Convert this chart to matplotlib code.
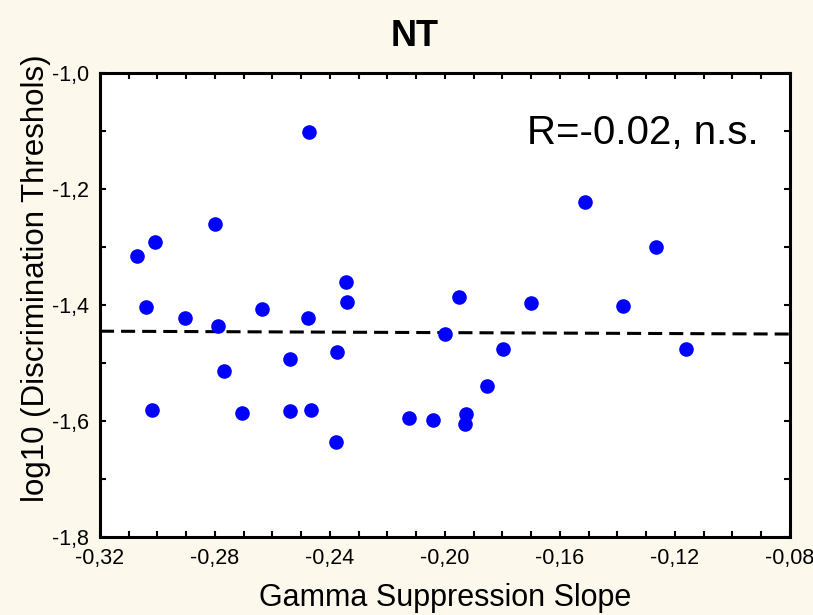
import numpy as np
import matplotlib
matplotlib.use("Agg")
import matplotlib.pyplot as plt
from matplotlib.ticker import MultipleLocator, FuncFormatter

# Per-subject values
gamma_slope = [
    -0.3071, -0.3040, -0.3009, -0.3019, -0.2904, -0.2800, -0.2790, -0.2769,
    -0.2706, -0.2637, -0.2539, -0.2539, -0.2473, -0.2476, -0.2466, -0.2376,
    -0.2379, -0.2344, -0.2341, -0.2125, -0.2042, -0.2000, -0.1951, -0.1927,
    -0.1930, -0.1854, -0.1798, -0.1701, -0.1513, -0.1381, -0.1266, -0.1162,
]
log_threshold = [
    -1.316, -1.403, -1.291, -1.581, -1.422, -1.260, -1.436, -1.514,
    -1.586, -1.407, -1.493, -1.583, -1.102, -1.422, -1.581, -1.481,
    -1.636, -1.360, -1.395, -1.595, -1.598, -1.450, -1.386, -1.588,
    -1.605, -1.540, -1.476, -1.397, -1.222, -1.402, -1.300, -1.476,
]
x_limits = (-0.32, -0.08)
y_limits = (-1.8, -1.0)
title = "NT"
annotation = "R=-0.02, n.s."
x_label = "Gamma Suppression Slope"
y_label = "log10 (Discrimination Threshols)"

plt.rcParams["font.family"] = ["Liberation Sans", "DejaVu Sans"]

bg = "#FDF8EC"
fig = plt.figure(figsize=(8.13, 6.15), dpi=100, facecolor=bg)
ax = fig.add_axes([0.123, 0.1268, 0.8487, 0.7545])
ax.set_facecolor("white")

x = np.array(gamma_slope)
y = np.array(log_threshold)

# Linear fit across the full x range
slope, intercept = np.polyfit(x, y, 1)
xf = np.array(x_limits)
ax.plot(xf, slope * xf + intercept, color="black", lw=2.2,
        dashes=(4.6, 2.3), zorder=2)

ax.plot(x, y, linestyle="none", marker="o", markersize=10.5,
        color="#0000FF", markeredgewidth=0, zorder=3)

ax.set_xlim(*x_limits)
ax.set_ylim(*y_limits)

ax.xaxis.set_major_locator(MultipleLocator(0.04))
ax.xaxis.set_minor_locator(MultipleLocator(0.01))
ax.yaxis.set_major_locator(MultipleLocator(0.2))
ax.yaxis.set_minor_locator(MultipleLocator(0.1))
ax.xaxis.set_major_formatter(FuncFormatter(lambda v, p: f"{v:.2f}".replace(".", ",")))
ax.yaxis.set_major_formatter(FuncFormatter(lambda v, p: f"{v:.1f}".replace(".", ",")))

ax.tick_params(which="both", direction="in", top=True, right=True,
               length=4, width=1.5, colors="black")
ax.tick_params(axis="x", which="major", labelsize=15.5, pad=8)
ax.tick_params(axis="y", which="major", labelsize=15.5, pad=8)

for s in ax.spines.values():
    s.set_linewidth(2.2)
    s.set_color("black")

ax.set_xlabel(x_label, fontsize=22)
ax.xaxis.set_label_coords(0.5, -0.099)
ax.set_ylabel(y_label, fontsize=22.5, va="center")
ax.yaxis.set_label_coords(-0.093, 0.558)

fig.text(0.51, 0.941, title, fontsize=26, fontweight="bold",
         ha="center", va="center")

ax.text(0.619, 0.871, annotation, transform=ax.transAxes, fontsize=29,
        ha="left", va="center")

fig.savefig("out.png", dpi=100, facecolor=bg)
